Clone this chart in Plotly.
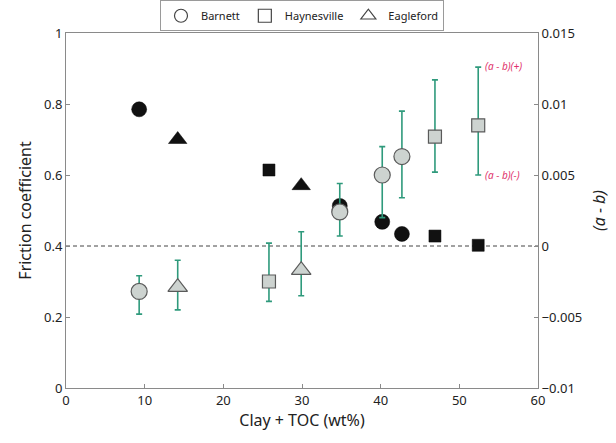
import plotly.graph_objects as go

# Friction coefficient (left axis) by shale, x = Clay + TOC (wt%)
barnett_x = [9.3, 34.8, 40.2, 42.7]
barnett_mu = [0.785, 0.513, 0.468, 0.434]
haynes_x = [25.8, 46.9, 52.4]
haynes_mu = [0.614, 0.428, 0.402]
eagle_x = [14.2, 29.9]
eagle_mu = [0.70, 0.57]

# (a - b) velocity dependence (right axis) with upper/lower bounds
barnett_ab = [-0.0032, 0.0024, 0.0050, 0.0063]
barnett_ab_hi = [-0.0021, 0.0044, 0.0070, 0.0095]
barnett_ab_lo = [-0.0048, 0.0007, 0.0020, 0.0034]
haynes_ab = [-0.0025, 0.0077, 0.0085]
haynes_ab_hi = [0.0002, 0.0117, 0.0126]
haynes_ab_lo = [-0.0039, 0.0052, 0.0050]
eagle_ab = [-0.0029, -0.0017]
eagle_ab_hi = [-0.0010, 0.0010]
eagle_ab_lo = [-0.0045, -0.0035]

x_ticks = [0, 10, 20, 30, 40, 50, 60]
mu_ticks = [0, 0.2, 0.4, 0.6, 0.8, 1]
ab_ticks = [-0.01, -0.005, 0, 0.005, 0.01, 0.015]
ab_tick_text = ["\u22120.01", "\u22120.005", "0", "0.005", "0.01", "0.015"]

FONT = "Noto Sans"
AXIS_GREY = "#8a8a8a"
BAR_GREEN = "#2f9a7c"
FILL_GREY = "#cdd3d0"
EDGE_GREY = "#5a5a5a"

fig = go.Figure()


def errs(vals, hi, lo):
    up = [h - v for h, v in zip(hi, vals)]
    dn = [v - l for v, l in zip(vals, lo)]
    return dict(type="data", array=up, arrayminus=dn, color=BAR_GREEN,
                thickness=1.6, width=3)


for xs, ab, hi, lo, sym, size in [
    (barnett_x, barnett_ab, barnett_ab_hi, barnett_ab_lo, "circle", 16),
    (haynes_x, haynes_ab, haynes_ab_hi, haynes_ab_lo, "square", 13),
    (eagle_x, eagle_ab, eagle_ab_hi, eagle_ab_lo, "triangle-up", 17),
]:
    fig.add_trace(go.Scatter(
        x=xs, y=ab, yaxis="y2", mode="markers", showlegend=False,
        error_y=errs(ab, hi, lo),
        marker=dict(symbol=sym, size=size, color=FILL_GREY,
                    line=dict(color=EDGE_GREY, width=1.2)),
    ))

for xs, mu, sym, size in [
    (barnett_x, barnett_mu, "circle", 15),
    (haynes_x, haynes_mu, "square", 12),
    (eagle_x, eagle_mu, "triangle-up", 16),
]:
    fig.add_trace(go.Scatter(
        x=xs, y=mu, mode="markers", showlegend=False,
        marker=dict(symbol=sym, size=size, color="#111111",
                    line=dict(color="#000000", width=0.5)),
    ))

# Legend entries with open symbols
for name, sym in [("Barnett", "circle-open"), ("Haynesville", "square-open"),
                  ("Eagleford", "triangle-up-open")]:
    fig.add_trace(go.Scatter(
        x=[None], y=[None], mode="markers", name=name,
        marker=dict(symbol=sym, size=13, color="#444444", line=dict(width=1.2)),
    ))

# Zero line of (a - b) coincides with mu = 0.4
fig.add_shape(type="line", xref="x", yref="y", x0=0, x1=60, y0=0.4, y1=0.4,
              line=dict(color="#444444", width=1, dash="4px,3px"), layer="below")

label_style = dict(xref="x", yref="y2", showarrow=False, xanchor="left",
                   font=dict(family=FONT, size=10, color="#e0306a"))
fig.add_annotation(x=53.0, y=0.0127, text="<i>(a \u2212 b)(+)</i>", **label_style)
fig.add_annotation(x=53.0, y=0.0050, text="<i>(a \u2212 b)(\u2212)</i>", **label_style)

fig.update_layout(
    width=616, height=443,
    margin=dict(l=66, r=78, t=33, b=55, autoexpand=False),
    paper_bgcolor="white", plot_bgcolor="white",
    font=dict(family=FONT, size=13, color="#222222"),
    legend=dict(orientation="h", x=0.5, xanchor="center", y=1.005,
                yanchor="bottom", yref="paper",
                bordercolor="#9a9a9a", borderwidth=1, bgcolor="white",
                font=dict(size=11), itemwidth=30, tracegroupgap=0),
    xaxis=dict(range=[0, 60], tickvals=x_ticks, showgrid=False, zeroline=False,
               showline=True, linecolor=AXIS_GREY, linewidth=1, mirror=True,
               ticks="inside", ticklen=4, tickcolor=AXIS_GREY,
               title=dict(text="Clay + TOC (wt%)", standoff=4)),
    yaxis=dict(range=[0, 1], tickvals=mu_ticks, showgrid=False, zeroline=False,
               showline=True, linecolor=AXIS_GREY, linewidth=1,
               ticks="inside", ticklen=4, tickcolor=AXIS_GREY,
               title=dict(text="Friction coefficient", standoff=8)),
    yaxis2=dict(range=[-0.01, 0.015], tickvals=ab_ticks, ticktext=ab_tick_text,
                overlaying="y", side="right", showgrid=False, zeroline=False,
                showline=True, linecolor=AXIS_GREY, linewidth=1,
                ticks="inside", ticklen=4, tickcolor=AXIS_GREY,
                title=dict(text="<i>(a \u2212 b)</i>", standoff=12)),
)

fig.write_html("out.html")
